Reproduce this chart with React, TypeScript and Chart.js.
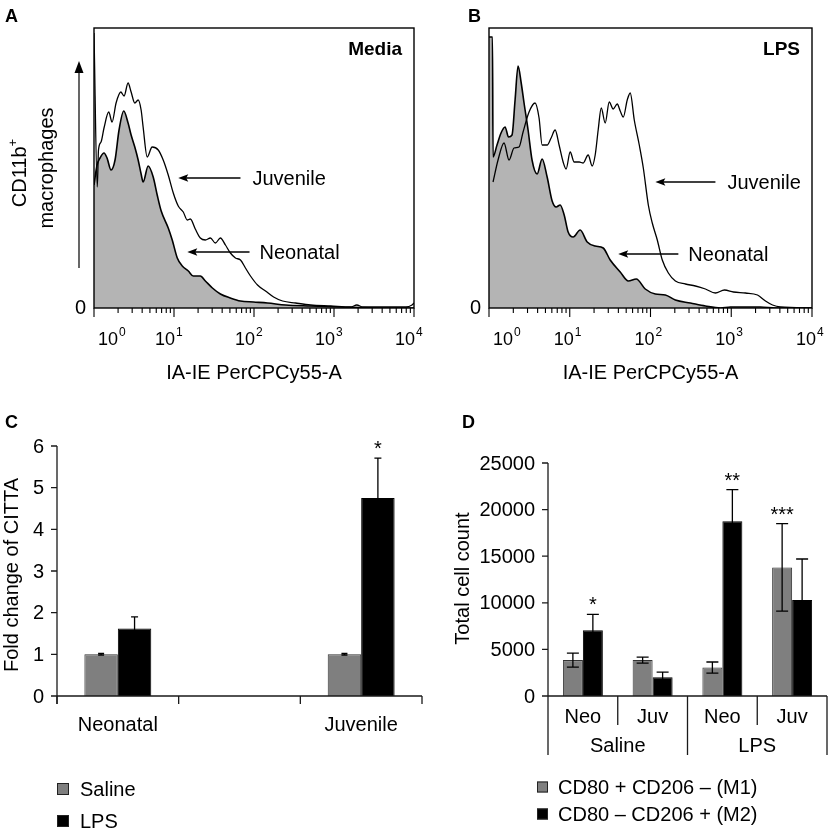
import React, { useEffect, useRef } from 'react';
import { Chart, registerables } from 'chart.js';

Chart.register(...registerables);

const FAMILY = '"Liberation Sans", Arial, Helvetica, sans-serif';
const font = (size: number, bold = false) => `${bold ? 'bold ' : ''}${size}px ${FAMILY}`;

// ---------------- Panel A (Media): log10 intensity vs events ----------------
const mediaJuvenileLog = [0, 0.041, 0.056, 0.088, 0.125, 0.184, 0.226, 0.276, 0.335, 0.376, 0.426, 0.464, 0.51, 0.552, 0.589, 0.614, 0.665, 0.727, 0.803, 0.865, 0.928, 0.991, 1.053, 1.116, 1.166, 1.204, 1.266, 1.329, 1.392, 1.455, 1.517, 1.58, 1.643, 1.705, 1.768, 1.831, 1.893, 1.956, 2.044, 2.144, 2.245, 2.357, 2.52, 2.708, 2.959, 3.21, 3.285, 3.361, 3.9, 3.975, 4.0];
const mediaJuvenileCount = [275, 121, 158, 166, 180, 196, 186, 205, 216, 212, 225, 216, 205, 208, 198, 181, 151, 161, 158, 148, 133, 115, 102, 96, 88, 89, 79, 70, 68, 70, 65, 70, 63, 55, 50, 48, 40, 32, 23, 17, 11, 7, 5, 3, 2, 1, 3, 1, 1, 3, 5];
const mediaNeonatalLog = [0, 0.038, 0.075, 0.125, 0.163, 0.213, 0.263, 0.313, 0.372, 0.426, 0.464, 0.51, 0.552, 0.589, 0.614, 0.677, 0.74, 0.79, 0.84, 0.928, 0.978, 1.041, 1.103, 1.179, 1.241, 1.329, 1.392, 1.48, 1.58, 1.705, 1.831, 1.994, 2.169, 2.395, 2.708, 3.085, 3.586, 4.0];
const mediaNeonatalCount = [123, 143, 150, 155, 150, 138, 148, 178, 197, 185, 173, 161, 148, 134, 126, 142, 131, 113, 97, 80, 68, 50, 42, 37, 32, 32, 27, 20, 14, 10, 7, 6, 5, 3, 2, 1, 0, 0];

// ---------------- Panel B (LPS) ----------------
const lpsJuvenileLog = [0.05, 0.112, 0.186, 0.248, 0.31, 0.372, 0.422, 0.496, 0.571, 0.62, 0.658, 0.72, 0.769, 0.819, 0.868, 0.918, 0.955, 1.005, 1.055, 1.117, 1.166, 1.228, 1.278, 1.315, 1.352, 1.39, 1.439, 1.489, 1.538, 1.588, 1.625, 1.663, 1.712, 1.749, 1.799, 1.861, 1.911, 1.973, 2.022, 2.084, 2.146, 2.221, 2.308, 2.432, 2.556, 2.68, 2.804, 2.916, 3.027, 3.176, 3.325, 3.424, 3.511, 3.61, 4.0];
const lpsJuvenileCount = [126, 148, 165, 148, 160, 161, 176, 196, 205, 190, 163, 163, 170, 178, 163, 146, 139, 156, 146, 146, 145, 153, 142, 153, 178, 200, 185, 206, 199, 204, 197, 191, 208, 215, 188, 163, 140, 103, 85, 68, 48, 35, 27, 24, 22, 19, 15, 18, 16, 15, 13, 7, 3, 1, 0];
const lpsNeonatalLog = [0, 0.043, 0.05, 0.099, 0.149, 0.199, 0.242, 0.285, 0.323, 0.36, 0.397, 0.434, 0.484, 0.533, 0.596, 0.658, 0.72, 0.782, 0.831, 0.881, 0.931, 0.98, 1.042, 1.129, 1.216, 1.315, 1.414, 1.501, 1.625, 1.725, 1.824, 1.935, 2.06, 2.184, 2.308, 2.494, 2.68, 2.866, 2.99, 3.362, 3.548, 4.0];
const lpsNeonatalCount = [271, 271, 151, 163, 175, 181, 171, 173, 208, 242, 226, 205, 178, 148, 134, 149, 131, 107, 101, 103, 93, 76, 71, 78, 66, 62, 60, 48, 36, 27, 29, 19, 14, 13, 8, 5, 2, 0, 1, 1, 0, 0];

const histDecades = [0, 1, 2, 3, 4];
const histXTitle = 'IA-IE PerCPCy55-A';

// ---------------- Panel C ----------------
const ageGroups = ['Neonatal', '', 'Juvenile'];
const salineFold = [1.0, null, 1.0];
const salineFoldErr = [0.02, null, 0.02];
const lpsFold = [1.62, null, 4.75];
const lpsFoldErr = [0.28, null, 0.96];
const lpsFoldStars = ['', '', '*'];
const foldTicks = [0, 1, 2, 3, 4, 5, 6];

// ---------------- Panel D ----------------
const subgroups = ['Neo', 'Juv', 'Neo', 'Juv'];
const treatments = ['Saline', 'LPS'];
const m1Counts = [3850, 3850, 3050, 13800];
const m1Err = [750, 330, 600, 4700];
const m1Stars = ['', '', '', '***'];
const m2Counts = [7050, 2000, 18750, 10300];
const m2Err = [1700, 560, 3400, 4400];
const m2Stars = ['*', '', '**', ''];
const countTicks = [0, 5000, 10000, 15000, 20000, 25000];

const HIST_FILL = '#b4b4b4';
const SALINE_GREY = '#7f7f7f';
const INK = '#000';

const toPoints = (xs: number[], ys: number[]) => xs.map((x, i) => ({ x, y: ys[i] }));

function arrowLeft(ctx: CanvasRenderingContext2D, tailX: number, headX: number, y: number) {
  ctx.lineWidth = 1.3;
  ctx.beginPath();
  ctx.moveTo(tailX, y);
  ctx.lineTo(headX + 5, y);
  ctx.stroke();
  ctx.beginPath();
  ctx.moveTo(headX, y);
  ctx.lineTo(headX + 10, y - 3.8);
  ctx.lineTo(headX + 8, y);
  ctx.lineTo(headX + 10, y + 3.8);
  ctx.closePath();
  ctx.fill();
}

function rotText(ctx: CanvasRenderingContext2D, text: string, x: number, y: number, f: string) {
  ctx.save();
  ctx.translate(x, y);
  ctx.rotate(-Math.PI / 2);
  ctx.font = f;
  ctx.textAlign = 'center';
  ctx.textBaseline = 'middle';
  ctx.fillText(text, 0, 0);
  ctx.restore();
}

type HistNote = { text: string; headX: number; tailX: number; textX: number; y: number };

function histDecor(p: { letter: string; letterX: number; title: string; notes: HistNote[]; yTitle: boolean; labelShift: number }) {
  return {
    id: 'histDecor',
    afterDraw(chart: any) {
      const { ctx, chartArea: a } = chart;
      const xs = chart.scales.x;
      const ys = chart.scales.y;
      ctx.save();
      ctx.fillStyle = INK;
      ctx.strokeStyle = INK;
      // frame
      ctx.lineWidth = 1.4;
      ctx.strokeRect(a.left, a.top, a.right - a.left, a.bottom - a.top);
      // decade ticks
      ctx.lineWidth = 1.1;
      ctx.beginPath();
      histDecades.forEach((d, i) => {
        const px = xs.getPixelForValue(d);
        ctx.moveTo(px, a.bottom);
        ctx.lineTo(px, a.bottom + 9);
        if (i < histDecades.length - 1) {
          for (let k = 2; k <= 9; k++) {
            const mx = xs.getPixelForValue(d + Math.log10(k));
            ctx.moveTo(mx, a.bottom);
            ctx.lineTo(mx, a.bottom + 5);
          }
        }
      });
      ctx.stroke();
      // decade labels
      ctx.textAlign = 'left';
      ctx.textBaseline = 'alphabetic';
      histDecades.forEach((d) => {
        const px = xs.getPixelForValue(d);
        ctx.font = font(18);
        const w = ctx.measureText('10').width;
        let left = px + p.labelShift - w;
        if (left < a.left + 4) left = a.left + 4;
        ctx.fillText('10', left, a.bottom + 37);
        ctx.font = font(12);
        ctx.fillText(String(d), left + w + 1, a.bottom + 28);
      });
      // x title
      ctx.font = font(20);
      ctx.textAlign = 'center';
      ctx.fillText(histXTitle, (a.left + a.right) / 2, a.bottom + 71);
      // zero label
      ctx.textAlign = 'right';
      ctx.textBaseline = 'middle';
      ctx.fillText('0', a.left - 8, ys.getPixelForValue(0));
      // panel title
      ctx.font = font(19, true);
      ctx.textBaseline = 'alphabetic';
      ctx.fillText(p.title, a.right - 12, a.top + 27);
      // letter
      ctx.font = font(18, true);
      ctx.textAlign = 'left';
      ctx.fillText(p.letter, p.letterX, 22);
      // notes with arrows
      p.notes.forEach((n) => {
        const y = ys.getPixelForValue(n.y);
        arrowLeft(ctx, xs.getPixelForValue(n.tailX), xs.getPixelForValue(n.headX), y);
        ctx.font = font(20);
        ctx.textAlign = 'left';
        ctx.textBaseline = 'middle';
        ctx.fillText(n.text, xs.getPixelForValue(n.textX), y + 1);
      });
      // y title with arrow
      if (p.yTitle) {
        const ax = a.left - 15;
        ctx.lineWidth = 1.2;
        ctx.beginPath();
        ctx.moveTo(ax, a.bottom - 40);
        ctx.lineTo(ax, a.top + 42);
        ctx.stroke();
        ctx.beginPath();
        ctx.moveTo(ax, a.top + 33);
        ctx.lineTo(ax - 4.5, a.top + 45);
        ctx.lineTo(ax + 4.5, a.top + 45);
        ctx.closePath();
        ctx.fill();
        // CD11b+
        ctx.save();
        ctx.translate(a.left - 74, a.top + 145);
        ctx.rotate(-Math.PI / 2);
        ctx.font = font(20);
        const w1 = ctx.measureText('CD11b').width;
        ctx.font = font(13);
        const w2 = ctx.measureText('+').width;
        const start = -(w1 + w2) / 2;
        ctx.textAlign = 'left';
        ctx.textBaseline = 'middle';
        ctx.font = font(20);
        ctx.fillText('CD11b', start, 0);
        ctx.font = font(13);
        ctx.fillText('+', start + w1, -7);
        ctx.restore();
        rotText(ctx, 'macrophages', a.left - 47, a.top + 140, font(20));
      }
      ctx.restore();
    },
  };
}

function histConfig(
  juvLog: number[], juvCount: number[], neoLog: number[], neoCount: number[],
  padding: any, decor: any
) {
  return {
    type: 'line',
    data: {
      datasets: [
        {
          label: 'Juvenile',
          data: toPoints(juvLog, juvCount),
          borderColor: INK,
          borderWidth: 1.3,
          fill: false,
          pointRadius: 0,
          cubicInterpolationMode: 'monotone',
        },
        {
          label: 'Neonatal',
          data: toPoints(neoLog, neoCount),
          borderColor: INK,
          borderWidth: 1.6,
          backgroundColor: HIST_FILL,
          fill: 'origin',
          pointRadius: 0,
          cubicInterpolationMode: 'monotone',
        },
      ],
    },
    options: {
      responsive: false,
      animation: false,
      events: [],
      layout: { padding },
      plugins: { legend: { display: false }, tooltip: { enabled: false } },
      scales: {
        x: { type: 'linear', min: 0, max: 4, display: false },
        y: { type: 'linear', min: 0, max: 280, display: false },
      },
    },
    plugins: [decor],
  };
}

function drawErrors(ctx: CanvasRenderingContext2D, chart: any, dsIndex: number, values: any[], errs: any[], cap: number) {
  const meta = chart.getDatasetMeta(dsIndex);
  const ys = chart.scales.y;
  ctx.lineWidth = 1.3;
  ctx.strokeStyle = INK;
  meta.data.forEach((el: any, j: number) => {
    const v = values[j];
    const e = errs[j];
    if (v == null || e == null) return;
    const top = ys.getPixelForValue(v + e);
    const bot = ys.getPixelForValue(v - e);
    ctx.beginPath();
    ctx.moveTo(el.x, bot);
    ctx.lineTo(el.x, top);
    ctx.moveTo(el.x - cap / 2, top);
    ctx.lineTo(el.x + cap / 2, top);
    ctx.moveTo(el.x - cap / 2, bot);
    ctx.lineTo(el.x + cap / 2, bot);
    ctx.stroke();
  });
}

function drawStars(ctx: CanvasRenderingContext2D, chart: any, dsIndex: number, values: any[], errs: any[], stars: string[]) {
  const meta = chart.getDatasetMeta(dsIndex);
  const ys = chart.scales.y;
  ctx.font = font(20);
  ctx.textAlign = 'center';
  ctx.textBaseline = 'alphabetic';
  meta.data.forEach((el: any, j: number) => {
    if (!stars[j]) return;
    const top = ys.getPixelForValue(values[j] + (errs[j] || 0));
    ctx.fillText(stars[j], el.x, top - 3);
  });
}

function drawYAxis(ctx: CanvasRenderingContext2D, chart: any, ticks: number[], extend: number) {
  const a = chart.chartArea;
  const ys = chart.scales.y;
  ctx.strokeStyle = '#1a1a1a';
  ctx.lineWidth = 1.3;
  ctx.beginPath();
  ctx.moveTo(a.left, a.top);
  ctx.lineTo(a.left, a.bottom + extend);
  ctx.moveTo(a.left, a.bottom);
  ctx.lineTo(a.right, a.bottom);
  ticks.forEach((t) => {
    const py = ys.getPixelForValue(t);
    ctx.moveTo(a.left - 6, py);
    ctx.lineTo(a.left, py);
  });
  ctx.stroke();
  ctx.fillStyle = INK;
  ctx.font = font(20);
  ctx.textAlign = 'right';
  ctx.textBaseline = 'middle';
  ticks.forEach((t) => ctx.fillText(String(t), a.left - 13, ys.getPixelForValue(t) + 1));
}

function drawLegend(ctx: CanvasRenderingContext2D, chart: any, x: number, textX: number, ys: number[], size: number) {
  chart.data.datasets.forEach((ds: any, i: number) => {
    ctx.fillStyle = ds.backgroundColor;
    ctx.fillRect(x, ys[i] - size / 2, size, size);
    ctx.strokeStyle = '#222';
    ctx.lineWidth = 1;
    ctx.strokeRect(x + 0.5, ys[i] - size / 2 + 0.5, size - 1, size - 1);
    ctx.fillStyle = INK;
    ctx.font = font(20);
    ctx.textAlign = 'left';
    ctx.textBaseline = 'middle';
    ctx.fillText(ds.label, textX, ys[i] + 1);
  });
}

const foldDecor = {
  id: 'foldDecor',
  afterDraw(chart: any) {
    const { ctx, chartArea: a } = chart;
    const xs = chart.scales.x;
    ctx.save();
    drawYAxis(ctx, chart, foldTicks, 8);
    // category boundary ticks
    const n = ageGroups.length;
    const step = (a.right - a.left) / n;
    ctx.beginPath();
    for (let i = 0; i <= n; i++) {
      const px = a.left + step * i;
      ctx.moveTo(px, a.bottom);
      ctx.lineTo(px, a.bottom + 8);
    }
    ctx.stroke();
    ctx.font = font(20);
    ctx.textAlign = 'center';
    ctx.textBaseline = 'middle';
    ctx.fillStyle = INK;
    ageGroups.forEach((g, i) => {
      if (g) ctx.fillText(g, xs.getPixelForValue(i), a.bottom + 29);
    });
    drawErrors(ctx, chart, 0, salineFold, salineFoldErr, 6);
    drawErrors(ctx, chart, 1, lpsFold, lpsFoldErr, 7);
    ctx.fillStyle = INK;
    drawStars(ctx, chart, 1, lpsFold, lpsFoldErr, lpsFoldStars);
    rotText(ctx, 'Fold change of CITTA', 12, (a.top + a.bottom) / 2 + 4, font(20));
    drawLegend(ctx, chart, a.left, a.left + 23, [a.bottom + 93, a.bottom + 125], 12);
    ctx.fillStyle = INK;
    ctx.font = font(18, true);
    ctx.textAlign = 'left';
    ctx.textBaseline = 'alphabetic';
    ctx.fillText('C', 5, 28);
    ctx.restore();
  },
};

const countDecor = {
  id: 'countDecor',
  afterDraw(chart: any) {
    const { ctx, chartArea: a } = chart;
    const xs = chart.scales.x;
    ctx.save();
    drawYAxis(ctx, chart, countTicks, 59);
    const centers = subgroups.map((_, i) => xs.getPixelForValue(i));
    const per = subgroups.length / treatments.length;
    ctx.beginPath();
    for (let i = 0; i < subgroups.length - 1; i++) {
      const bx = (centers[i] + centers[i + 1]) / 2;
      const long = (i + 1) % per === 0;
      ctx.moveTo(bx, a.bottom);
      ctx.lineTo(bx, a.bottom + (long ? 59 : 29));
    }
    ctx.moveTo(a.right, a.bottom);
    ctx.lineTo(a.right, a.bottom + 59);
    ctx.stroke();
    ctx.fillStyle = INK;
    ctx.font = font(20);
    ctx.textAlign = 'center';
    ctx.textBaseline = 'middle';
    subgroups.forEach((s, i) => ctx.fillText(s, centers[i], a.bottom + 21));
    treatments.forEach((t, g) => {
      const c = centers.slice(g * per, g * per + per);
      const mid = c.reduce((s, v) => s + v, 0) / c.length;
      ctx.fillText(t, mid, a.bottom + 50);
    });
    drawErrors(ctx, chart, 0, m1Counts, m1Err, 12);
    drawErrors(ctx, chart, 1, m2Counts, m2Err, 12);
    ctx.fillStyle = INK;
    drawStars(ctx, chart, 0, m1Counts, m1Err, m1Stars);
    drawStars(ctx, chart, 1, m2Counts, m2Err, m2Stars);
    rotText(ctx, 'Total cell count', a.left - 85, (a.top + a.bottom) / 2 - 1, font(20));
    drawLegend(ctx, chart, a.left - 11, a.left + 10, [a.bottom + 91, a.bottom + 118], 11);
    ctx.fillStyle = INK;
    ctx.font = font(18, true);
    ctx.textAlign = 'left';
    ctx.textBaseline = 'alphabetic';
    ctx.fillText('D', 32, 28);
    ctx.restore();
  },
};

function barOptions(padding: any, max: number, catPct: number) {
  return {
    responsive: false,
    animation: false,
    events: [],
    layout: { padding },
    datasets: { bar: { categoryPercentage: catPct, barPercentage: 1 } },
    plugins: { legend: { display: false }, tooltip: { enabled: false } },
    scales: {
      x: { type: 'category', display: false },
      y: { type: 'linear', min: 0, max, display: false },
    },
  };
}

function ChartCanvas(props: { left: number; top: number; width: number; height: number; make: () => any }) {
  const ref = useRef<HTMLCanvasElement | null>(null);
  useEffect(() => {
    if (!ref.current) return;
    const chart = new Chart(ref.current, props.make());
    return () => chart.destroy();
  }, []);
  return (
    <canvas
      ref={ref}
      width={props.width}
      height={props.height}
      style={{ position: 'absolute', left: props.left, top: props.top, width: props.width, height: props.height }}
    />
  );
}

export default function App() {
  return (
    <div style={{ position: 'absolute', left: 0, top: 0, width: 830, height: 832, background: '#fff', overflow: 'hidden' }}>
      <ChartCanvas
        left={0} top={0} width={432} height={400}
        make={() =>
          histConfig(
            mediaJuvenileLog, mediaJuvenileCount, mediaNeonatalLog, mediaNeonatalCount,
            { left: 94, top: 28, right: 18, bottom: 92 },
            histDecor({
              letter: 'A', letterX: 5, title: 'Media', yTitle: true, labelShift: 1,
              notes: [
                { text: 'Juvenile', headX: 1.053, tailX: 1.831, textX: 1.981, y: 130 },
                { text: 'Neonatal', headX: 1.166, tailX: 1.944, textX: 2.069, y: 56 },
              ],
            })
          )
        }
      />
      <ChartCanvas
        left={420} top={0} width={410} height={400}
        make={() =>
          histConfig(
            lpsJuvenileLog, lpsJuvenileCount, lpsNeonatalLog, lpsNeonatalCount,
            { left: 69, top: 28, right: 18, bottom: 92 },
            histDecor({
              letter: 'B', letterX: 48, title: 'LPS', yTitle: false, labelShift: 4,
              notes: [
                { text: 'Juvenile', headX: 2.06, tailX: 2.804, textX: 2.953, y: 126 },
                { text: 'Neonatal', headX: 1.6, tailX: 2.345, textX: 2.469, y: 54 },
              ],
            })
          )
        }
      />
      <ChartCanvas
        left={0} top={400} width={430} height={432}
        make={() => ({
          type: 'bar',
          data: {
            labels: ageGroups,
            datasets: [
              { label: 'Saline', data: salineFold, backgroundColor: SALINE_GREY, borderColor: '#333', borderWidth: 1 },
              { label: 'LPS', data: lpsFold, backgroundColor: '#000', borderColor: '#000', borderWidth: 1 },
            ],
          },
          options: barOptions({ left: 57, top: 46, right: 8, bottom: 136 }, 6, 0.55),
          plugins: [foldDecor],
        })}
      />
      <ChartCanvas
        left={430} top={400} width={400} height={432}
        make={() => ({
          type: 'bar',
          data: {
            labels: subgroups,
            datasets: [
              { label: 'CD80 + CD206 \u2013 (M1)', data: m1Counts, backgroundColor: SALINE_GREY, borderColor: '#333', borderWidth: 1 },
              { label: 'CD80 \u2013 CD206 + (M2)', data: m2Counts, backgroundColor: '#000', borderColor: '#000', borderWidth: 1 },
            ],
          },
          options: barOptions({ left: 118, top: 63, right: 3, bottom: 136 }, 25000, 0.573),
          plugins: [countDecor],
        })}
      />
    </div>
  );
}
